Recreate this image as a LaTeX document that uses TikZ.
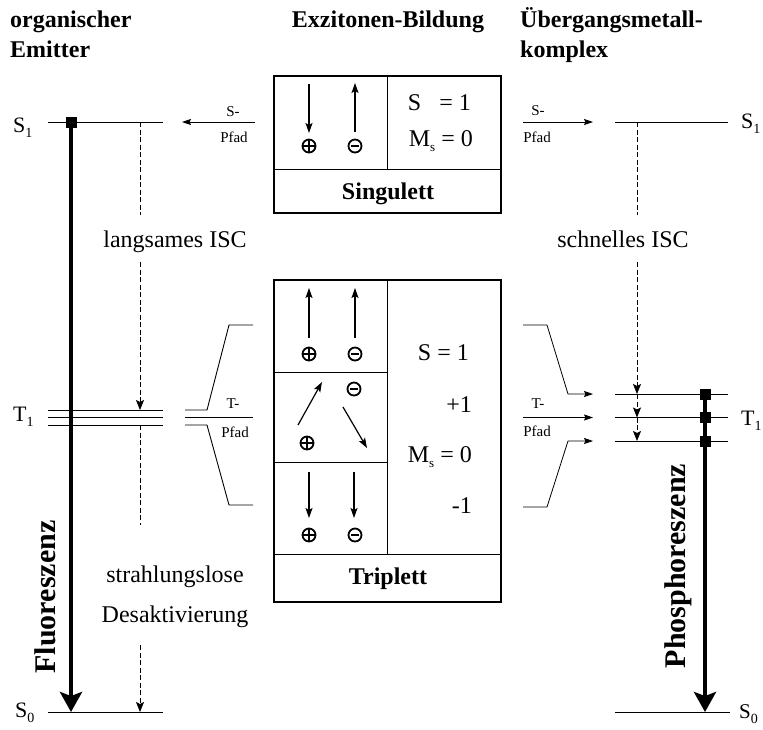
\documentclass[tikz,border=0pt]{standalone}
\usepackage{fontspec}
\setmainfont{Liberation Serif}
\usetikzlibrary{arrows.meta}
\newcommand\lvsub[2]{#1\raisebox{-5pt}{\fontsize{14}{14}\selectfont #2}}
\newcommand\msub{M\raisebox{-5pt}{\fontsize{13}{13}\selectfont s}}
\begin{document}
\begin{tikzpicture}[x=1pt,y=-1pt,
 lvl/.style={line width=0.9pt},
 thinarr/.style={line width=0.8pt,-{Stealth[length=9pt,width=6pt,inset=1.5pt]}},
 isc/.style={line width=0.8pt,dash pattern=on 5pt off 2.5pt},
 iscarr/.style={isc,-{Stealth[length=10pt,width=8pt,inset=2pt]}},
 frame/.style={line width=2.6pt},
 gridl/.style={line width=0.8pt},
 spin/.style={line width=1.2pt,-{Stealth[length=10pt,width=7pt,inset=2pt]}},
 heavy/.style={line width=4pt,-{Stealth[length=20pt,width=22pt,inset=4pt]}},
 heavyline/.style={line width=4pt},
 sq/.style={fill=black,minimum size=11pt,inner sep=0pt},
 lab/.style={font=\fontsize{24}{28}\selectfont,inner sep=0pt},
 ttl/.style={font=\fontsize{24}{28}\selectfont\bfseries,inner sep=0pt},
 lvlab/.style={font=\fontsize{22}{24}\selectfont,inner sep=0pt,anchor=base west},
 small/.style={font=\fontsize{15}{17}\selectfont,inner sep=0pt},
 rot/.style={font=\fontsize{30}{32}\selectfont\bfseries,inner sep=0pt,rotate=90,anchor=base},
 pics/pluso/.style={code={\draw[line width=1.8pt] (0,0) circle[radius=6.5pt];
   \draw[line width=1.8pt] (-6.5pt,0)--(6.5pt,0) (0,-6.5pt)--(0,6.5pt);}},
 pics/minuso/.style={code={\draw[line width=1.8pt] (0,0) circle[radius=6.5pt];
   \draw[line width=2.6pt] (-4pt,0)--(4pt,0);}},
]
\useasboundingbox (0,0) rectangle (763,729);

% titles
\node[ttl,anchor=base west] (t1a) at (10,27) {organischer};
\node[ttl,anchor=base west] (t1b) at (10,57) {Emitter};
\node[ttl,anchor=base] (t2) at (388,27) {Exzitonen-Bildung};
\node[ttl,anchor=base west] (t3a) at (520,27) {Übergangsmetall-};
\node[ttl,anchor=base west] (t3b) at (520,57) {komplex};

% ---------- left column (organic emitter)
\coordinate (LS1a) at (48,122); \coordinate (LS1b) at (163,122);
\coordinate (LT1a) at (48,410); \coordinate (LT1b) at (163,410);
\coordinate (LT2a) at (48,417.5); \coordinate (LT2b) at (163,417.5);
\coordinate (LT3a) at (48,425); \coordinate (LT3b) at (163,425);
\coordinate (LS0a) at (48,712); \coordinate (LS0b) at (163,712);
\draw[lvl] (LS1a)--(LS1b) (LT1a)--(LT1b) (LT2a)--(LT2b) (LT3a)--(LT3b) (LS0a)--(LS0b);
\node[lvlab] (ls1) at (13,132) {\lvsub{S}{1}};
\node[lvlab] (lt1) at (13,421) {\lvsub{T}{1}};
\node[lvlab] (ls0) at (15,717) {\lvsub{S}{0}};

\node[sq] (lsq) at (71,122) {};
\coordinate (lfl) at (71,712);
\draw[heavy] (lsq.center)--(lfl);
\node[rot] (fluo) at (55,597) {Fluoreszenz};

\coordinate (ld1) at (140,122); \coordinate (ld2) at (140,215);
\coordinate (ld3) at (140,262); \coordinate (ld4) at (140,410);
\coordinate (ld5) at (140,425); \coordinate (ld6) at (140,525);
\coordinate (ld7) at (140,645); \coordinate (ld8) at (140,712);
\draw[isc] (ld1)--(ld2);
\draw[iscarr] (ld3)--(ld4);
\draw[isc] (ld5)--(ld6);
\draw[iscarr] (ld7)--(ld8);
\node[lab,anchor=base] (lisc) at (175,247) {langsames ISC};
\node[lab,anchor=base] (lstr) at (175,582) {strahlungslose};
\node[lab,anchor=base] (ldes) at (175,622) {Desaktivierung};

% left S-path
\coordinate (lsp1) at (255,122); \coordinate (lsp2) at (182,122);
\draw[thinarr] (lsp1)--(lsp2);
\node[small] (lsA) at (233,112) {S-};
\node[small] (lsB) at (234,137) {Pfad};

% left T-path bracket
\coordinate (lb1) at (185,410); \coordinate (lb2) at (207,410);
\coordinate (lb3) at (229,325); \coordinate (lb4) at (253,325);
\coordinate (lb5) at (185,417.5); \coordinate (lb6) at (253,417.5);
\coordinate (lb7) at (185,425); \coordinate (lb8) at (207,425);
\coordinate (lb9) at (229,505); \coordinate (lb10) at (253,505);
\draw[lvl] (lb1)--(lb2)--(lb3)--(lb4);
\draw[lvl] (lb5)--(lb6);
\draw[lvl] (lb7)--(lb8)--(lb9)--(lb10);
\node[small] (ltA) at (233,404) {T-};
\node[small] (ltB) at (235,432) {Pfad};

% ---------- Singulett box
\draw[frame] (274,76) rectangle (501,213);
\draw[gridl] (274,169)--(501,169) (387,76)--(387,169);
\coordinate (sa1) at (309,84); \coordinate (sa2) at (309,133);
\coordinate (sb1) at (355,132); \coordinate (sb2) at (355,83);
\draw[spin] (sa1)--(sa2);
\draw[spin] (sb1)--(sb2);
\pic at (309,146) {pluso};
\pic at (355,146) {minuso};
\node[lab,anchor=base east] (sS) at (471,110) {S\hspace{0.5em} = 1};
\node[lab,anchor=base east] (sM) at (473,146) {\msub\ = 0};
\node[ttl,anchor=base] (sing) at (388,199) {Singulett};

% ---------- Triplett box
\draw[frame] (274,280) rectangle (501,602);
\draw[gridl] (274,372)--(387,372) (274,462)--(387,462) (274,554)--(501,554) (387,280)--(387,554);
\coordinate (r1a) at (309,338); \coordinate (r1b) at (309,288);
\coordinate (r1c) at (355,338); \coordinate (r1d) at (355,288);
\draw[spin] (r1a)--(r1b);
\draw[spin] (r1c)--(r1d);
\pic at (309,354) {pluso};
\pic at (355,354) {minuso};
\coordinate (r2a) at (298,425); \coordinate (r2b) at (322,382);
\coordinate (r2c) at (343,407); \coordinate (r2d) at (367,448);
\draw[spin] (r2a)--(r2b);
\draw[spin] (r2c)--(r2d);
\pic at (354,389) {minuso};
\pic at (307,443) {pluso};
\coordinate (r3a) at (309,472); \coordinate (r3b) at (309,518);
\coordinate (r3c) at (354,472); \coordinate (r3d) at (354,518);
\draw[spin] (r3a)--(r3b);
\draw[spin] (r3c)--(r3d);
\pic at (309,535) {pluso};
\pic at (355,535) {minuso};
\node[lab,anchor=base east] (tS) at (469,360) {S = 1};
\node[lab,anchor=base east] (tp) at (472,412) {+1};
\node[lab,anchor=base east] (tM) at (472,462) {\msub\ = 0};
\node[lab,anchor=base east] (tm) at (472,513) {-1};
\node[ttl,anchor=base] (trip) at (388,584) {Triplett};

% ---------- right column (transition metal complex)
\coordinate (RS1a) at (615,122); \coordinate (RS1b) at (728,122);
\coordinate (RT1a) at (615,394); \coordinate (RT1b) at (728,394);
\coordinate (RT2a) at (615,417.5); \coordinate (RT2b) at (728,417.5);
\coordinate (RT3a) at (615,441); \coordinate (RT3b) at (728,441);
\coordinate (RS0a) at (615,712); \coordinate (RS0b) at (730,712);
\draw[lvl] (RS1a)--(RS1b) (RT1a)--(RT1b) (RT2a)--(RT2b) (RT3a)--(RT3b) (RS0a)--(RS0b);
\node[lvlab] (rs1) at (741,128) {\lvsub{S}{1}};
\node[lvlab] (rt1) at (741,425) {\lvsub{T}{1}};
\node[lvlab,font=\fontsize{21}{23}\selectfont] (rs0) at (739,718) {\lvsub{S}{0}};

\node[sq] (rsq1) at (705,394) {};
\node[sq] (rsq2) at (705,417.5) {};
\node[sq] (rsq3) at (705,441) {};
\coordinate (rph) at (705,712);
\draw[heavyline] (rsq1.center)--(rsq3.center);
\draw[heavy] (rsq3.center)--(rph);
\node[rot] (phos) at (685,566) {Phosphoreszenz};

\coordinate (rd1) at (637,122); \coordinate (rd2) at (637,215);
\coordinate (rd3) at (637,262); \coordinate (rd4) at (637,394);
\coordinate (rd5) at (637,417.5); \coordinate (rd6) at (637,441);
\draw[isc] (rd1)--(rd2);
\draw[iscarr] (rd3)--(rd4);
\draw[iscarr] (rd4)--(rd5);
\draw[iscarr] (rd5)--(rd6);
\node[lab,anchor=base] (risc) at (623,247) {schnelles ISC};

% right S-path
\coordinate (rsp1) at (523,122); \coordinate (rsp2) at (593,122);
\draw[thinarr] (rsp1)--(rsp2);
\node[small] (rsA) at (538,111) {S-};
\node[small] (rsB) at (537,137) {Pfad};

% right T-path bracket
\coordinate (rb1) at (523,325); \coordinate (rb2) at (547,325);
\coordinate (rb3) at (568,394); \coordinate (rb4) at (593,394);
\coordinate (rb5) at (523,417.5); \coordinate (rb6) at (593,417.5);
\coordinate (rb7) at (523,507); \coordinate (rb8) at (547,507);
\coordinate (rb9) at (568,441); \coordinate (rb10) at (593,441);
\draw[thinarr] (rb1)--(rb2)--(rb3)--(rb4);
\draw[thinarr] (rb5)--(rb6);
\draw[thinarr] (rb7)--(rb8)--(rb9)--(rb10);
\node[small] (rtA) at (538,404) {T-};
\node[small] (rtB) at (537,431) {Pfad};
\end{tikzpicture}
\end{document}
